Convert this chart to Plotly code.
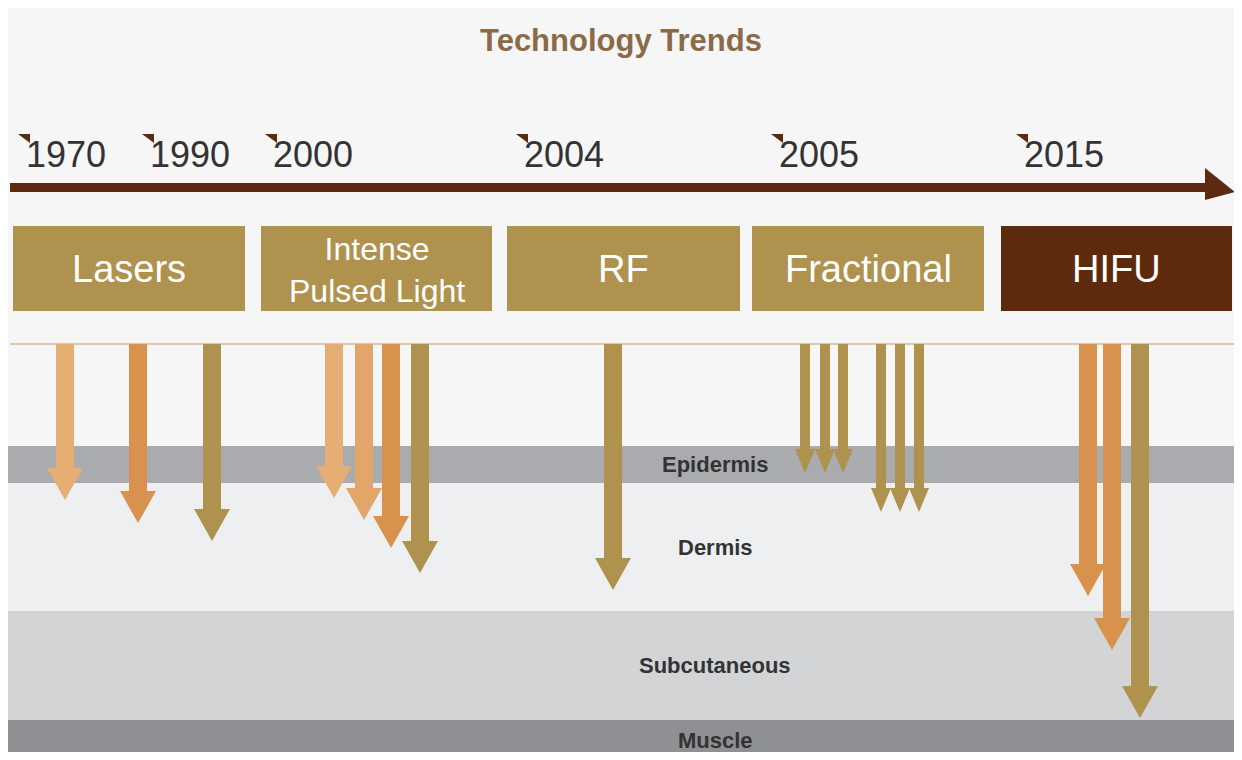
import plotly.graph_objects as go

W, H = 1242, 760
PAD = 8  # page body margin

title = "Technology Trends"
years = ["1970", "1990", "2000", "2004", "2005", "2015"]
year_x = [18, 142, 265, 516, 771, 1016]

techs = ["Lasers", "Intense<br>Pulsed Light", "RF", "Fractional", "HIFU"]
tech_x0 = [13, 261, 507, 752, 1001]
tech_x1 = [245, 492, 740, 984, 1232]
tech_color = ["#B0924F", "#B0924F", "#B0924F", "#B0924F", "#5E2A0E"]

layers = ["Epidermis", "Dermis", "Subcutaneous", "Muscle"]
layer_top = [446, 483, 611, 720]
layer_bot = [483, 611, 720, 760]
layer_color = ["#A9ABAE", "#EEEFF0", "#D3D4D6", "#8E9093"]

# arrows: x centre, tip depth, colour, width
arrow_x = [65, 138, 212, 334, 364, 391, 420, 613,
           805, 825, 843, 881, 900, 919, 1088, 1112, 1140]
arrow_tip = [500, 523, 541, 498, 520, 548, 573, 590,
             473, 473, 473, 512, 512, 512, 596, 650, 718]
arrow_col = ["#E6AE74", "#D9914E", "#B0924F", "#E6AE74", "#E3A66A", "#D9914E", "#B0924F", "#B0924F",
             "#B0924F", "#B0924F", "#B0924F", "#B0924F", "#B0924F", "#B0924F", "#D9914E", "#D9914E", "#B0924F"]
arrow_w = [18, 18, 18, 18, 18, 18, 18, 18, 10, 10, 10, 10, 10, 10, 18, 18, 18]

fig = go.Figure()
shapes = []
ann = []

for name, t, b, c in zip(layers, layer_top, layer_bot, layer_color):
    shapes.append(dict(type="rect", x0=8, x1=1238, y0=t, y1=b, fillcolor=c, line_width=0, layer="below"))
    ann.append(dict(x=715, y=(t + b) / 2, text="<b>%s</b>" % name, showarrow=False,
                    font=dict(family="Liberation Sans, Arial", size=22, color="#333")))

shapes.append(dict(type="line", x0=10, x1=1240, y0=344, y1=344, line=dict(color="#D8B890", width=1.5)))

for x, tip, c, w in zip(arrow_x, arrow_tip, arrow_col, arrow_w):
    hw = w * 1.0
    hl = 32 if w > 12 else 24
    s = w / 2
    path = (f"M {x-s},344 L {x+s},344 L {x+s},{tip-hl} L {x+hw},{tip-hl} "
            f"L {x},{tip} L {x-hw},{tip-hl} L {x-s},{tip-hl} Z")
    shapes.append(dict(type="path", path=path, fillcolor=c, line_width=0))

for name, x0, x1, c in zip(techs, tech_x0, tech_x1, tech_color):
    shapes.append(dict(type="rect", x0=x0, x1=x1, y0=226, y1=311, fillcolor=c, line_width=0))
    big = "<br>" not in name
    ann.append(dict(x=(x0 + x1) / 2, y=269 if big else 270, text=name, showarrow=False,
                    font=dict(family="Liberation Sans, Arial", size=38 if big else 32, color="white")))

shapes.append(dict(type="path", path="M 10,183 L 1205,183 L 1205,168 L 1235,192 L 1205,200 L 1205,192 L 10,192 Z",
                   fillcolor="#5C2A10", line_width=0))

for y, x in zip(years, year_x):
    shapes.append(dict(type="path", path=f"M {x},134 L {x+12},134 L {x+12},143 Z",
                       fillcolor="#5C2A10", line_width=0))
    ann.append(dict(x=x + 6, y=154, text=y, showarrow=False, xanchor="left",
                    font=dict(family="Liberation Sans, Arial", size=36, color="#333")))

ann.append(dict(x=621, y=40, text="<b>%s</b>" % title, showarrow=False,
                font=dict(family="Liberation Sans, Arial", size=31, color="#8B6A47")))

fig.update_layout(
    width=W - 2 * PAD, height=H - 2 * PAD, margin=dict(l=0, r=0, t=0, b=0),
    paper_bgcolor="#F6F6F6", plot_bgcolor="#F6F6F6",
    xaxis=dict(range=[PAD, W - PAD], visible=False, fixedrange=True),
    yaxis=dict(range=[H - PAD, PAD], visible=False, fixedrange=True),
    shapes=shapes, annotations=ann, showlegend=False,
)
fig.write_html("out.html")
